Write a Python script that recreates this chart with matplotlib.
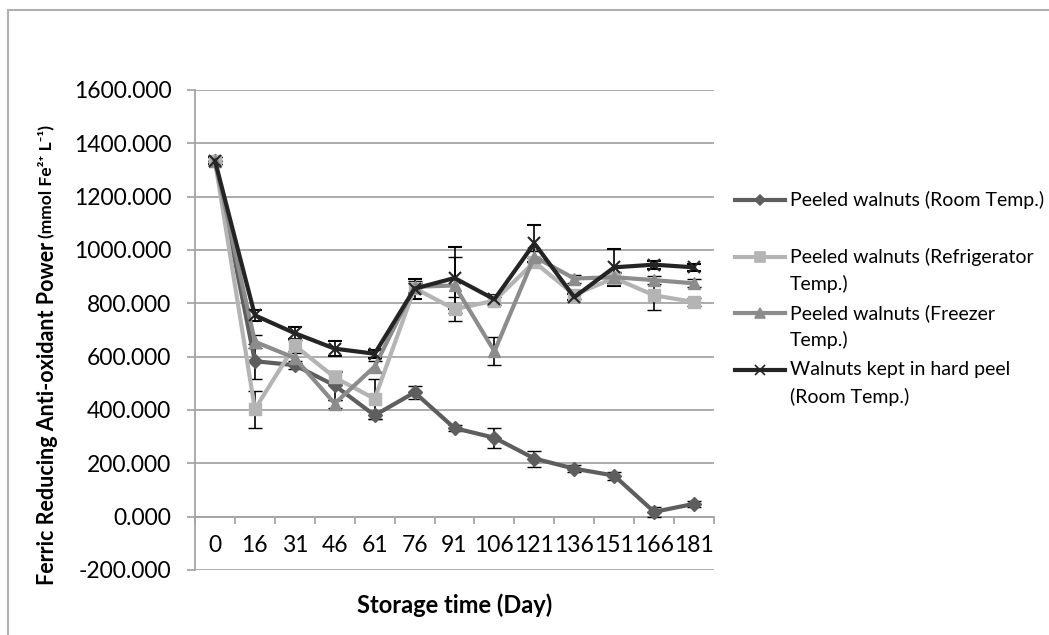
import matplotlib
matplotlib.use("Agg")
import matplotlib.pyplot as plt
import numpy as np
from matplotlib.lines import Line2D
from matplotlib.patches import Rectangle
from matplotlib.ticker import FormatStrFormatter, FixedLocator

plt.rcParams['font.family'] = ['Lato', 'DejaVu Sans']

# data
days = ['0', '16', '31', '46', '61', '76', '91', '106', '121', '136', '151', '166', '181']

room = [1335, 583, 568, 492, 380, 466, 332, 296, 218, 180, 154, 18, 48]
room_err = [12, 65, 15, 55, 15, 25, 12, 37, 30, 12, 15, 20, 12]

fridge = [1335, 403, 642, 522, 442, 857, 778, 810, 955, 832, 895, 830, 805]
fridge_err = [12, 70, 20, 20, 76, 20, 45, 15, 15, 15, 20, 56, 15]

freezer = [1335, 656, 595, 424, 563, 862, 867, 620, 975, 893, 898, 887, 875]
freezer_err = [12, 25, 20, 15, 20, 20, 105, 53, 20, 15, 20, 15, 15]

hard = [1335, 755, 688, 630, 611, 855, 895, 815, 1025, 823, 935, 945, 935]
hard_err = [12, 20, 22, 27, 15, 38, 115, 15, 70, 12, 70, 15, 12]

labels = [['Peeled walnuts (Room Temp.)'],
          ['Peeled walnuts (Refrigerator', 'Temp.)'],
          ['Peeled walnuts (Freezer', 'Temp.)'],
          ['Walnuts kept in hard peel', '(Room Temp.)']]
colors = ['#5e5e5e', '#b4b4b4', '#8c8c8c', '#242424']
markers = ['D', 's', '^', 'x']
msizes = [7, 9, 9, 9]

W, H = 1049, 635
fig = plt.figure(figsize=(W / 100, H / 100), dpi=100)

def fx(px):
    return px / W

def fy(py):
    return 1 - py / H

# outer chart border (only top/left visible)
fig.add_artist(Rectangle((fx(8), -1), 2, fy(10) + 1, transform=fig.transFigure,
                         fill=False, edgecolor='#b0b0b0', lw=1.5))

ax = fig.add_axes([fx(195), fy(570), fx(714) - fx(195), fy(90) - fy(570)])

x = np.arange(len(days))
series = [(room, room_err), (fridge, fridge_err), (freezer, freezer_err), (hard, hard_err)]
for (vals, err), c, m, ms in zip(series, colors, markers, msizes):
    ax.errorbar(x, vals, yerr=err, color=c, lw=3, marker=m, ms=ms,
                mew=1.5 if m == 'x' else 1, mec=c, ecolor='black', elinewidth=1.2,
                capsize=5, capthick=1.2, zorder=3)

ax.set_xlim(-0.5, len(days) - 0.5)
ax.set_ylim(-200, 1600)
ax.set_yticks(np.arange(-200, 1601, 200))
ax.yaxis.set_major_formatter(FormatStrFormatter('%.3f'))
ax.grid(axis='y', color='#a6a6a6', lw=1.3)
ax.set_axisbelow(True)

for s in ['top', 'right']:
    ax.spines[s].set_visible(False)
ax.spines['left'].set_color('#a6a6a6')
ax.spines['left'].set_linewidth(1.3)
ax.spines['bottom'].set_position(('data', 0))
ax.spines['bottom'].set_color('#a6a6a6')
ax.spines['bottom'].set_linewidth(1.3)

ax.xaxis.set_major_locator(FixedLocator(np.arange(-0.5, len(days), 1.0)))
ax.xaxis.set_minor_locator(FixedLocator(x))
ax.set_xticklabels([], minor=False)
ax.set_xticklabels(days, minor=True)
ax.tick_params(axis='x', which='major', length=5, color='#a6a6a6', width=1.3)
ax.tick_params(axis='x', which='minor', length=0, pad=13, labelsize=16.5)
ax.tick_params(axis='y', length=6, color='#a6a6a6', width=1.3, pad=11, labelsize=16.5)

# y label in two sizes
t1 = fig.text(fx(48), fy(585), 'Ferric Reducing Anti-oxidant Power', rotation=90,
              ha='center', va='bottom', fontsize=15.5, fontweight='bold')
fig.canvas.draw()
bb = t1.get_window_extent()
fig.text(fx(46), (bb.y1 + 4) / H, '(mmol Fe\u00b2\u207a L\u207b\u00b9)', rotation=90,
         ha='center', va='bottom', fontsize=12.5, fontweight='bold')

fig.text(fx(455), fy(605), 'Storage time (Day)', ha='center', va='center',
         fontsize=17, fontweight='bold')

# legend
rows = [200, 257, 313, 370]
for lab, c, m, ms, ry in zip(labels, colors, markers, msizes, rows):
    fig.add_artist(Line2D([fx(735), fx(785)], [fy(ry), fy(ry)], color=c, lw=3,
                          transform=fig.transFigure))
    fig.add_artist(Line2D([fx(760)], [fy(ry)], color=c, marker=m, ms=ms * 0.8,
                          mew=1.2, transform=fig.transFigure))
    for i, line in enumerate(lab):
        fig.text(fx(790), fy(ry + 27 * i), line, ha='left', va='center', fontsize=14)

fig.savefig('out.png', dpi=100)
